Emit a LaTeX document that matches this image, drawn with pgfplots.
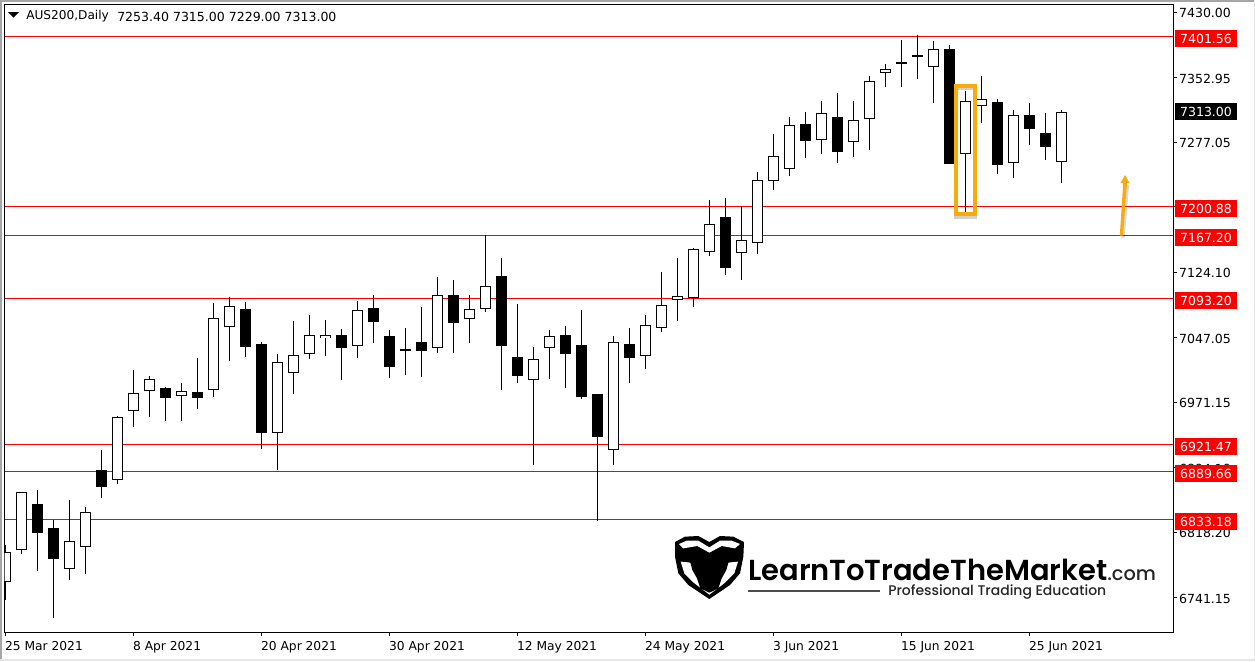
\documentclass[border=0pt]{standalone}
\usepackage{fontspec}
\setmainfont{DejaVu Sans}
\newfontfamily\logofont[UprightFont=* Medium,BoldFont=* SemiBold]{Poppins}
\usepackage{pgfplots}
\usepackage{pgfplotstable}
\pgfplotsset{compat=1.18}
\definecolor{boxred}{HTML}{FF0000}
\definecolor{orng}{HTML}{F8AB0B}
\pgfplotstableread{
x high top bot low
0 6802.9 6795.1 6759.0 6738.2
1 6865.3 6865.0 6796.7 6792.7
4 6855.9 6807.3 6774.4 6762.1
5 6847.7 6841.4 6800.2 6769.2
7 6955.1 6953.6 6879.1 6875.1
8 7008.9 6981.5 6960.3 6942.2
9 7001.8 6997.9 6983.8 6953.9
11 6993.6 6983.8 6977.9 6949.2
13 7087.7 7069.7 6985.0 6977.5
14 7094.4 7083.9 7059.1 7019.8
17 7027.7 7017.9 6934.4 6891.6
18 7066.5 7026.2 7005.0 6981.0
19 7073.6 7049.7 7027.4 7022.2
20 7067.7 7049.7 7046.2 7025.7
22 7090.1 7079.1 7036.8 7023.4
27 7118.3 7096.8 7034.4 7029.2
29 7097.1 7080.3 7068.5 7041.0
30 7167.4 7107.4 7080.3 7077.5
33 7035.9 7021.5 6996.8 6897.4
34 7056.0 7048.5 7034.4 6998.7
38 7048.9 7041.5 6914.4 6897.1
40 7073.6 7061.5 7025.0 7010.4
41 7124.2 7085.0 7058.0 7054.0
42 7140.7 7095.6 7090.9 7066.9
43 7152.5 7150.9 7094.0 7083.4
44 7208.9 7180.3 7147.4 7143.4
46 7201.9 7161.5 7146.2 7115.2
47 7241.5 7232.1 7158.0 7145.7
48 7286.6 7260.4 7230.9 7221.1
49 7306.3 7296.8 7245.1 7237.5
51 7325.4 7311.0 7279.2 7263.4
53 7325.4 7302.7 7276.8 7259.9
54 7354.9 7348.6 7303.9 7268.1
55 7369.0 7362.7 7358.0 7342.3
58 7396.1 7386.3 7365.1 7323.4
60 7337.2 7325.1 7262.7 7193.6
61 7354.9 7327.4 7319.2 7299.9
63 7314.9 7308.6 7252.1 7235.2
66 7315.0 7313.0 7253.4 7229.0
}\bull
\pgfplotstableread{
x high top bot low
2 6867.7 6851.2 6817.4 6772.7
3 6832.4 6822.9 6786.8 6717.4
6 6914.7 6891.2 6871.6 6858.6
10 6988.9 6987.7 6976.3 6949.2
12 7023.0 6983.0 6976.3 6963.4
15 7088.9 7080.7 7036.3 7024.5
16 7041.8 7039.5 6935.1 6916.3
21 7057.1 7050.1 7035.1 6997.5
23 7097.1 7081.8 7065.7 7041.0
24 7056.0 7048.9 7012.8 6999.8
25 7058.3 7033.6 7031.6 7003.4
26 7083.0 7041.8 7031.6 7001.0
28 7114.8 7097.1 7064.5 7029.2
31 7140.7 7119.5 7037.5 6985.7
32 7086.6 7024.2 7002.2 6993.9
35 7060.7 7050.1 7028.1 6988.1
36 7079.5 7038.3 6977.5 6975.1
37 6980.6 6980.6 6930.4 6831.5
39 7058.3 7039.5 7023.4 6993.9
45 7211.3 7188.9 7129.3 7121.0
50 7312.5 7298.4 7278.7 7258.7
52 7334.9 7306.6 7265.8 7252.8
56 7397.2 7371.0 7369.3 7342.3
57 7403.1 7379.2 7376.9 7351.7
59 7391.3 7386.6 7251.7 7251.7
62 7327.4 7324.3 7250.5 7239.9
64 7323.1 7309.0 7292.8 7274.0
65 7311.3 7287.8 7271.7 7256.4
}\bear
\pgfplotsset{
  wick/.style={draw=none,no markers,forget plot,error bars/.cd,y dir=both,y explicit,error mark=none,
    error bar style={draw=black,solid,line width=0.75pt}},
  body/.style={draw=none,no markers,forget plot,error bars/.cd,y dir=both,y explicit,error mark=none,
    error bar style={draw=#1,solid,line width=8pt}},
  inner/.style={draw=none,no markers,forget plot,error bars/.cd,y dir=both,y explicit,error mark=none,
    error bar style={draw=white,solid,line width=6.4pt}},
  hline/.style={draw=boxred,line width=0.85pt,no markers,forget plot}
}
\begin{document}
\begin{tikzpicture}
\begin{scope}[x=0.75pt,y=-0.75pt]
  \fill[white] (0,0) rectangle (1255,661);
  \fill[gray!70] (0,0) rectangle (1255,2);
  \fill[gray!70] (0,0) rectangle (2,661);
  \fill[black!10] (1253.5,0) rectangle (1255,661);
  \fill[black!10] (0,659) rectangle (1255,661);
\end{scope}
\begin{axis}[
  at={(3.525pt,-474.225pt)},anchor=south west,
  scale only axis,width=876.45pt,height=471pt,
  xmin=-0.0375,xmax=73,ymin=6700.2,ymax=7439.2,
  axis line style={black,line width=0.75pt},
  tick style={black,line width=0.75pt},
  major tick length=3pt,tick align=outside,
  xtick pos=bottom,ytick pos=right,yticklabel pos=right,
  xtick={0,8,16,24,32,40,48,56,64},
  xticklabels={25 Mar 2021,8 Apr 2021,20 Apr 2021,30 Apr 2021,12 May 2021,24 May 2021,3 Jun 2021,15 Jun 2021,25 Jun 2021},
  ytick={7430,7352.95,7277.05,7201,7124.10,7047.05,6971.15,6894.10,6818.20,6741.15},
  yticklabels={7430.00,7352.95,7277.05,{},7124.10,7047.05,6971.15,6894.10,6818.20,6741.15},
  y tick label style={font=\fontsize{9.4pt}{11pt}\selectfont,anchor=west,xshift=-2.2pt,yshift=-0.8pt},
  x tick label style={font=\fontsize{9.2pt}{11pt}\selectfont,anchor=north west,xshift=-3.7pt,yshift=0pt},
  clip mode=individual,
]
\addplot[hline] coordinates {(-0.0375,7401.56) (73,7401.56)};
\addplot[hline] coordinates {(-0.0375,7200.88) (73,7200.88)};
\addplot[hline] coordinates {(-0.0375,7167.20) (73,7167.20)};
\addplot[hline] coordinates {(-0.0375,7093.20) (73,7093.20)};
\addplot[hline] coordinates {(-0.0375,6921.47) (73,6921.47)};
\addplot[hline] coordinates {(-0.0375,6889.66) (73,6889.66)};
\addplot[hline] coordinates {(-0.0375,6833.18) (73,6833.18)};
\addplot[wick] table[x=x,y=top,y error plus expr=\thisrow{high}-\thisrow{top},y error minus expr=\thisrow{top}-\thisrow{low}] {\bull};
\addplot[wick] table[x=x,y=top,y error plus expr=\thisrow{high}-\thisrow{top},y error minus expr=\thisrow{top}-\thisrow{low}] {\bear};
\addplot[body=black] table[x=x,y expr=(\thisrow{top}+\thisrow{bot})/2,y error expr=(\thisrow{top}-\thisrow{bot})/2] {\bear};
\addplot[body=black] table[x=x,y expr=(\thisrow{top}+\thisrow{bot})/2,y error expr=(\thisrow{top}-\thisrow{bot})/2] {\bull};
\addplot[inner] table[x=x,y expr=(\thisrow{top}+\thisrow{bot})/2,y error expr=(\thisrow{top}-\thisrow{bot})/2-1.18] {\bull};
\end{axis}
\begin{scope}[x=0.75pt,y=-0.75pt]
  % header
  \fill[black] (8,12) -- (19,12) -- (13.5,17.5) -- cycle;
  \node[anchor=west,inner sep=0pt,font=\fontsize{9.1pt}{11pt}\selectfont] at (26,16.5) {AUS200,Daily};
  \node[anchor=west,inner sep=0pt,font=\fontsize{9.4pt}{11pt}\selectfont] at (117,16.5) {7253.40 7315.00 7229.00 7313.00};
  % price boxes
  \foreach \yc/\t in {38.3/7401.56,208.3/7200.88,237.3/7167.20,300.3/7093.20,446.3/6921.47,473.3/6889.66,521.3/6833.18}{
    \fill[boxred] (1175,\yc-8.35) rectangle (1237,\yc+8.35);
    \node[text=white,inner sep=0pt,font=\fontsize{9.4pt}{11pt}\selectfont] at (1206,\yc+0.7) {\t};
  }
  \fill[black] (1175,103) rectangle (1237,119.7);
  \node[text=white,inner sep=0pt,font=\fontsize{9.4pt}{11pt}\selectfont] at (1206,112) {7313.00};
  % highlight box
  \draw[black,opacity=0.18,line width=2.6pt] (955.7,88) rectangle (975.5,217.5);
  \draw[orng,line width=2.8pt] (955.9,85.8) rectangle (975.3,214);
  % arrow
  \draw[black,opacity=0.15,line width=2.4pt] (1123,238) -- (1127.5,185);
  \fill[orng] (1119.8,235.5) -- (1123,235.5) -- (1126.9,183) -- (1129.4,183) -- (1125,175) -- (1120.6,183) -- (1123.2,183) -- cycle;
  % logo shield
  \begin{scope}[shift={(665,530)},x=0.25pt,y=-0.25pt]
    \fill[black] (30,36) -- (60,20) -- (100,18) -- (133,36) -- (165,18) -- (205,20) -- (237,36) -- (235,80) -- (225,130) -- (195,165) -- (133,207) -- (70,165) -- (40,130) -- (30,80) -- cycle;
    \fill[white] (42,42) -- (65,32) -- (100,32) -- (133,52) -- (165,32) -- (200,32) -- (225,42) -- (210,55) -- (170,48) -- (133,68) -- (97,48) -- (55,55) -- cycle;
    \fill[white] (47,95) -- (219,95) -- (208,130) -- (180,158) -- (133,194) -- (86,158) -- (58,130) -- cycle;
    \fill[black] (38,92) -- (70,76) -- (196,76) -- (228,92) -- (190,98) -- (184,120) -- (170,145) -- (160,175) -- (133,188) -- (106,175) -- (96,145) -- (82,120) -- (76,98) -- cycle;
  \end{scope}
  % logo text
  \node[anchor=south west,inner sep=0pt] at (748,581) {\resizebox{269.25pt}{!}{\logofont\bfseries LearnToTradeTheMarket}};
  \node[anchor=base west,inner sep=0pt,font=\logofont\fontsize{14.5pt}{16pt}\selectfont,text=black!85] at (1107,580) {.com};
  \draw[black!70,line width=1.1pt] (748,591) -- (880,591);
  \node[anchor=base west,inner sep=0pt] at (888,595) {\resizebox{163.5pt}{!}{\logofont\textcolor{black!85}{Professional Trading Education}}};
\end{scope}
\end{tikzpicture}
\end{document}
